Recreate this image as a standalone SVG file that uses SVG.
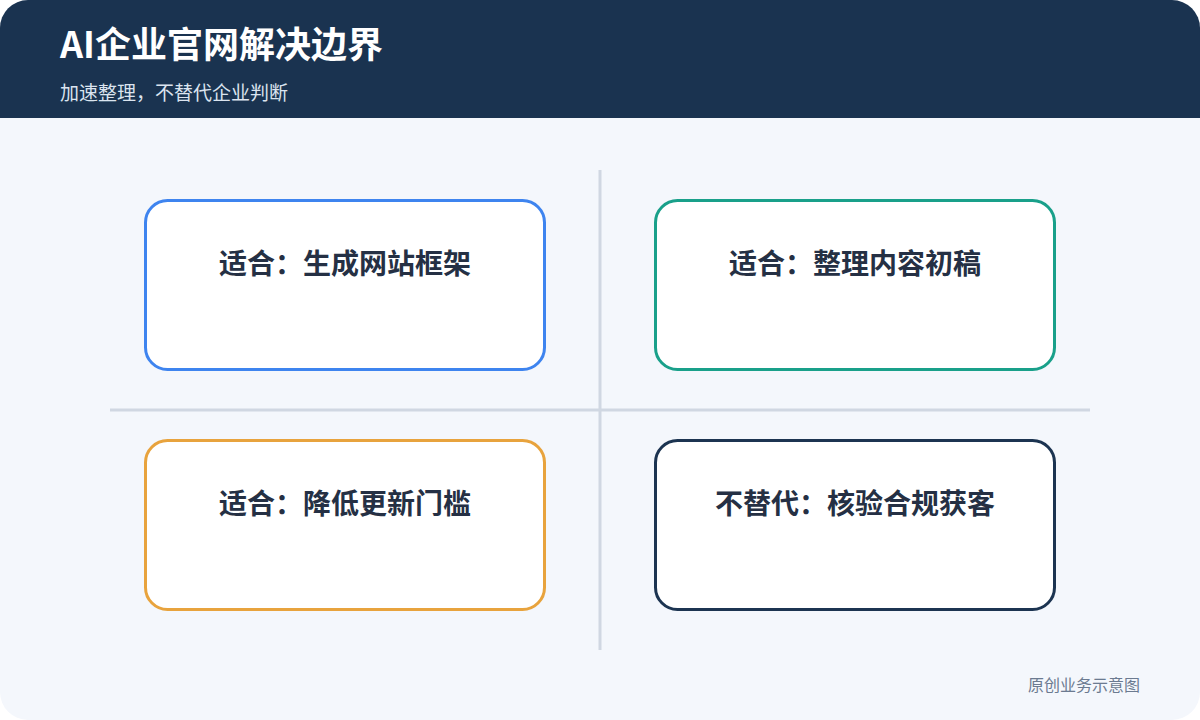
<svg xmlns="http://www.w3.org/2000/svg" width="1200" height="720" viewBox="0 0 1200 720">
<defs>
<clipPath id="frame"><rect x="0" y="0" width="1200" height="720" rx="28"/></clipPath>
<style>
.t{font-family:"Noto Sans CJK SC","Noto Sans",sans-serif}
.box{fill:#ffffff;stroke-width:3}
.lbl{font-family:"Noto Sans CJK SC","Noto Sans",sans-serif;font-size:28px;font-weight:700;fill:#253044;text-anchor:middle}
.axis{stroke:#d0d7e2;stroke-width:3}
</style>
</defs>
<rect width="1200" height="720" fill="#ffffff"/>
<g clip-path="url(#frame)">
<rect width="1200" height="720" fill="#f4f7fc"/>
<rect width="1200" height="118" fill="#1a3350"/>
</g>
<text class="t" x="60" y="58" font-size="36" font-weight="700" fill="#ffffff">AI企业官网解决边界</text>
<text class="t" x="60" y="100" font-size="19" fill="#dbe4ef">加速整理，不替代企业判断</text>
<g id="connectors">
<line class="axis" x1="600" y1="170" x2="600" y2="650"/>
<line class="axis" x1="110" y1="410" x2="1090" y2="410"/>
</g>
<g id="n1"><rect class="box" x="145.5" y="200.5" width="399" height="169" rx="22" stroke="#3e84ef"/><text class="lbl" x="345" y="274">适合：生成网站框架</text></g>
<g id="n2"><rect class="box" x="655.5" y="200.5" width="399" height="169" rx="22" stroke="#19a08a"/><text class="lbl" x="855" y="274">适合：整理内容初稿</text></g>
<g id="n3"><rect class="box" x="145.5" y="440.5" width="399" height="169" rx="22" stroke="#e8a33d"/><text class="lbl" x="345" y="514">适合：降低更新门槛</text></g>
<g id="n4"><rect class="box" x="655.5" y="440.5" width="399" height="169" rx="22" stroke="#1c3451"/><text class="lbl" x="855" y="514">不替代：核验合规获客</text></g>
<text class="t" x="1140" y="691" font-size="16" fill="#6b7a90" text-anchor="end">原创业务示意图</text>
</svg>
